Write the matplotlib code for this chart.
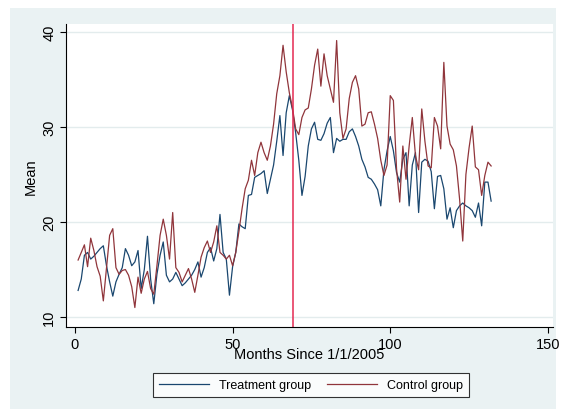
import numpy as np
import matplotlib
matplotlib.use("Agg")
import matplotlib.pyplot as plt
from matplotlib.patches import Rectangle

plt.rcParams['font.family'] = ['Liberation Sans', 'DejaVu Sans']

# monthly means, months 1..132 since 1/1/2005
months = np.arange(1, 133)

treatment = [
    12.8, 14.0, 16.5, 16.8, 16.1, 16.4, 16.8, 17.2, 17.5, 15.4,
    13.7, 12.2, 13.7, 14.5, 15.2, 17.2, 16.5, 15.4, 15.8, 17.0,
    13.0, 15.0, 18.5, 14.0, 11.4, 14.5, 16.5, 17.9, 14.4, 13.7,
    14.0, 14.7, 14.0, 13.3, 13.6, 14.0, 14.4, 15.0, 15.8, 14.2,
    15.2, 16.8, 17.3, 15.9, 17.2, 20.8, 16.8, 16.1, 12.3, 15.3,
    16.8, 19.8, 19.5, 19.3, 22.8, 22.9, 24.7, 24.9, 25.1, 25.4,
    23.0, 24.5, 26.0, 28.5, 31.2, 27.0, 31.5, 33.3, 31.8, 29.4,
    26.5, 22.8, 24.8, 28.0, 29.8, 30.5, 28.7, 28.6, 29.3, 30.4,
    31.0, 27.3, 28.8, 28.5, 28.7, 28.7, 29.5, 29.8, 29.0, 28.0,
    26.6, 25.8, 24.7, 24.5, 24.0, 23.4, 21.7, 25.5, 27.5, 29.0,
    27.5, 25.2, 24.2, 26.6, 27.3, 21.7, 26.0, 27.3, 21.0, 26.3,
    26.6, 26.4, 25.3, 21.4, 24.8, 24.9, 23.5, 20.3, 21.5, 19.4,
    21.2, 21.7, 22.0, 21.7, 21.5, 21.2, 20.5, 22.0, 19.6, 24.2,
    24.2, 22.2,
]

control = [
    16.0, 16.8, 17.6, 15.3, 18.3, 17.0, 15.3, 14.3, 11.7, 15.2,
    18.6, 19.3, 15.2, 14.5, 14.9, 15.0, 14.4, 13.2, 11.0, 14.2,
    12.5, 14.0, 14.8, 13.0, 12.4, 15.4, 18.6, 20.3, 18.6, 16.1,
    21.0, 15.2, 14.7, 13.7, 14.4, 15.1, 14.0, 12.6, 14.4, 16.3,
    17.3, 18.0, 16.8, 17.9, 19.6, 16.8, 16.5, 16.1, 16.5, 15.4,
    16.8, 19.0, 21.4, 23.5, 24.4, 26.5, 24.9, 27.3, 28.4, 27.3,
    26.5, 28.0, 30.3, 33.5, 35.4, 38.6, 35.8, 33.6, 32.0, 29.8,
    29.2, 31.0, 31.8, 32.0, 34.0, 36.5, 38.2, 34.3, 37.7, 35.4,
    34.0, 32.6, 39.1, 31.5, 28.8, 29.8, 33.0, 34.7, 35.4, 34.0,
    30.1, 30.3, 31.5, 31.6, 30.3, 28.8, 26.5, 24.9, 26.0, 33.3,
    32.8, 25.6, 22.1, 28.0, 24.5, 28.0, 31.0, 27.0, 25.5, 31.9,
    28.5, 25.9, 25.7, 31.0, 30.1, 27.7, 36.8, 30.1, 28.2, 27.6,
    25.9, 22.4, 18.0, 25.0, 27.8, 30.1, 25.8, 25.5, 22.8, 24.9,
    26.3, 25.9,
]

cutoff = 69

fig = plt.figure(figsize=(5.61, 4.14), dpi=100, facecolor='white')
# light graph-region background behind everything
fig.patches.append(Rectangle((0.0178, 0.0097), 0.973, 0.968,
                             transform=fig.transFigure, facecolor='#eaf2f3',
                             edgecolor='none', zorder=-10))

ax = fig.add_axes([0.1176, 0.2077, 0.868, 0.7319])
ax.set_facecolor('white')

ax.plot(months, treatment, color='#1a476f', lw=0.9, label='Treatment group')
ax.plot(months, control, color='#90353b', lw=0.9, label='Control group')
ax.axvline(cutoff, color='#e42a52', lw=1.1)

ax.set_xlim(-2.85, 151.6)
ax.set_ylim(8.95, 40.84)
ax.set_xticks([0, 50, 100, 150])
ax.set_yticks([10, 20, 30, 40])
ax.grid(axis='y', color='#e3eced', lw=1.0)
ax.set_axisbelow(True)

for s in ['top', 'right']:
    ax.spines[s].set_visible(False)
for s in ['left', 'bottom']:
    ax.spines[s].set_linewidth(0.8)
    ax.spines[s].set_color('black')

ax.tick_params(axis='both', direction='out', length=4, width=0.8,
               labelsize=10.5, pad=3)
plt.setp(ax.get_yticklabels(), rotation=90, va='center')

ax.set_xlabel('Months Since 1/1/2005', fontsize=10.5, labelpad=-3)
ax.set_ylabel('Mean', fontsize=10.5, labelpad=3)

leg = ax.legend(loc='center', bbox_to_anchor=(311 / 561, 1 - 386 / 414),
                bbox_transform=fig.transFigure, ncol=2, fontsize=9,
                frameon=True, fancybox=False, edgecolor='black',
                handlelength=4.0, handletextpad=0.8, columnspacing=1.2,
                borderpad=0.5, borderaxespad=0)
leg.get_frame().set_linewidth(0.8)

fig.savefig('out.png', dpi=100, facecolor='white')
